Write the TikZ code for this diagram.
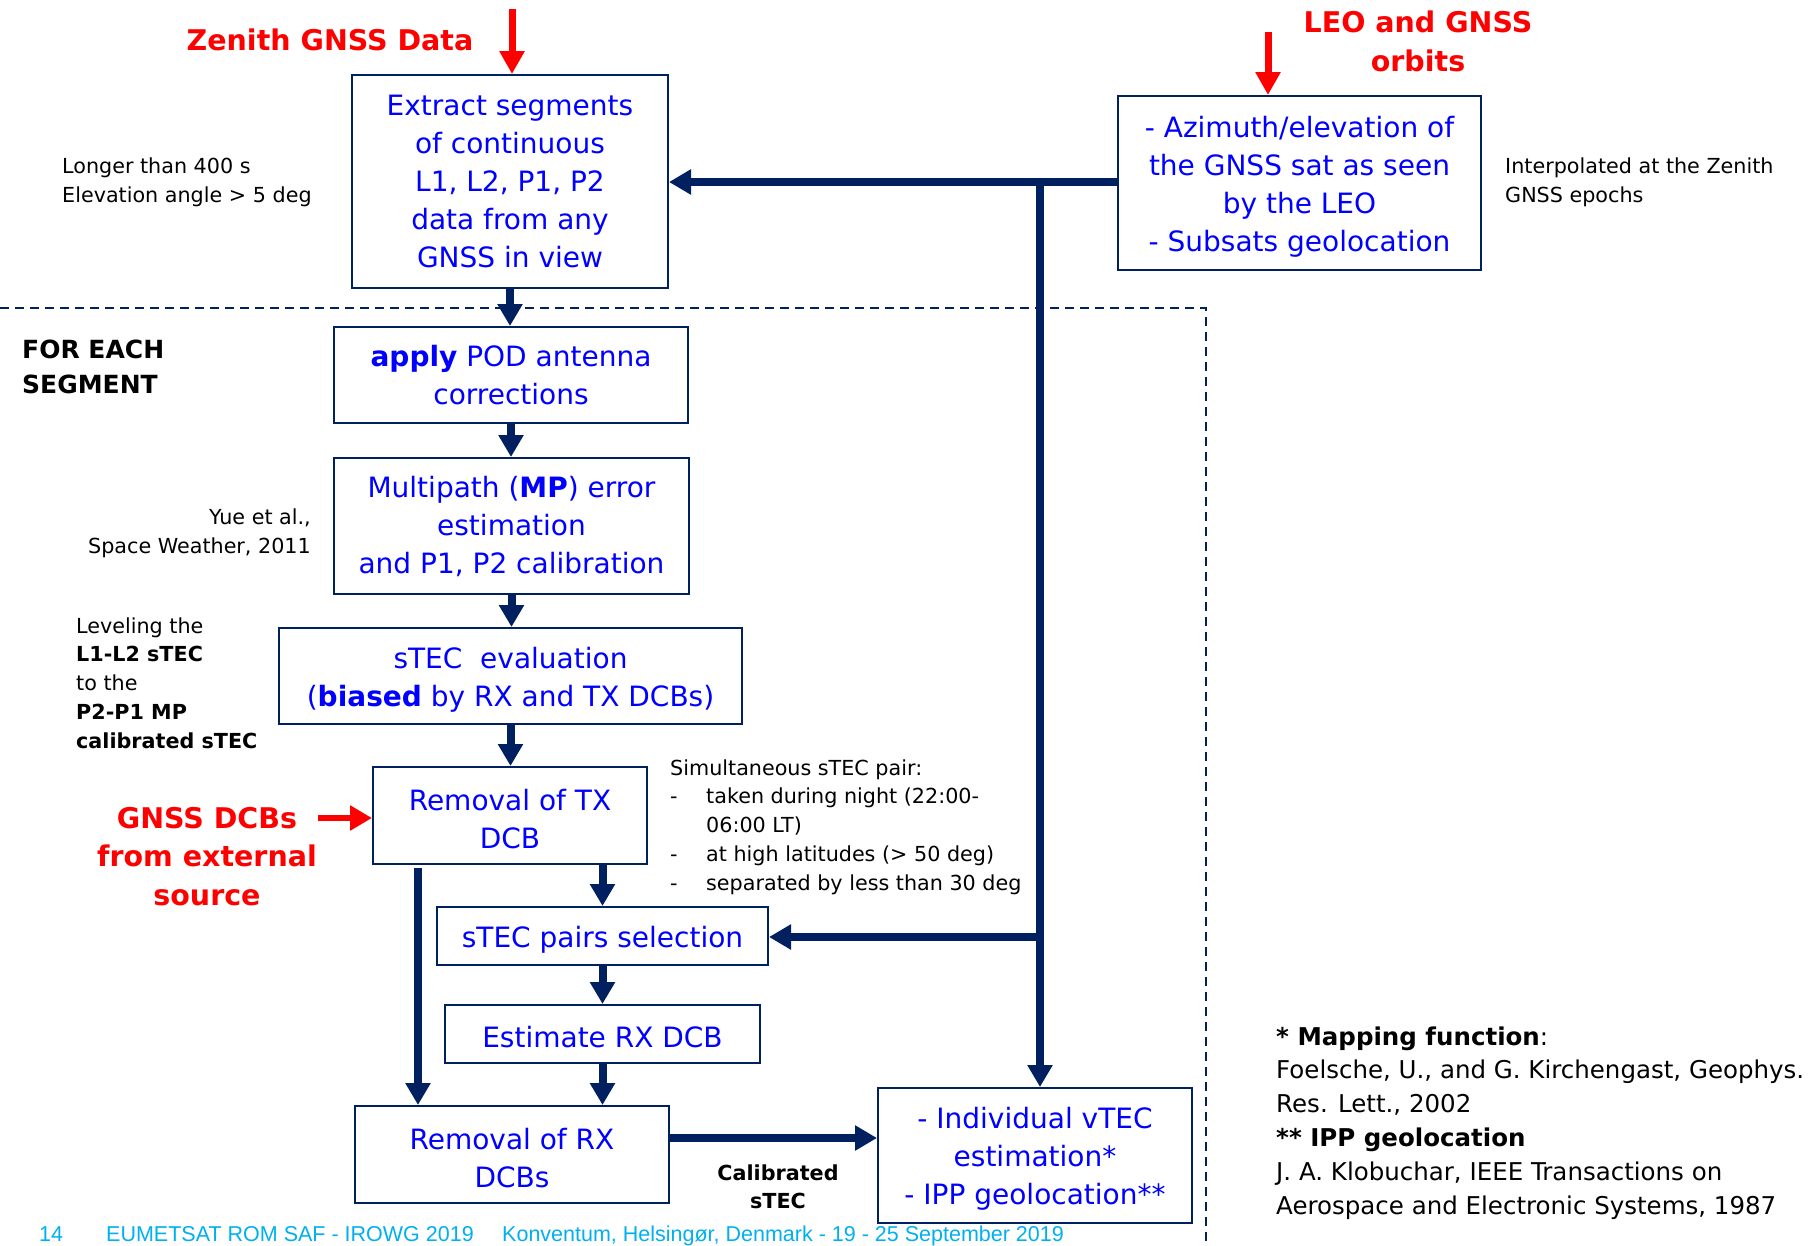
\documentclass[tikz,border=0pt]{standalone}
\usepackage{fontspec}
\setmainfont{DejaVu Sans}
\newfontfamily\arialf{Liberation Sans}
\usetikzlibrary{arrows.meta}
\definecolor{navy}{HTML}{002060}
\definecolor{footc}{HTML}{00B0F0}
\newcommand{\tp}{\rule{0pt}{28pt}}
\begin{document}
\begin{tikzpicture}[x=1pt,y=-1pt,
  box/.style={draw=navy, line width=2pt, text=blue, align=center, inner sep=0pt, font=\fontsize{28}{38}\selectfont},
  flow/.style={navy, line width=8pt, -{Triangle[length=22pt,width=24pt]}},
  redarr/.style={red, line width=7pt, -{Triangle[length=23pt,width=24pt]}},
  note/.style={inner sep=0pt, align=left, font=\fontsize{20.7}{28.7}\selectfont},
  refs/.style={inner sep=0pt, align=left, font=\fontsize{24.5}{33.8}\selectfont},
  redlbl/.style={inner sep=0pt, align=center, text=red, font=\bfseries\fontsize{28.5}{38.5}\selectfont},
  foot/.style={inner sep=0pt, text=footc, font=\arialf\fontsize{21.5}{25}\selectfont},
  dashline/.style={navy, line width=2pt, dash pattern=on 9pt off 6pt}]
\useasboundingbox (0,0) rectangle (1811,1245);
\fill[white] (0,0) rectangle (1811,1245);

% dashed frame
\coordinate (d0) at (0,308);
\coordinate (d1) at (1206,308);
\coordinate (d2) at (1206,1245);
\draw[dashline] (d0) -- (d1) -- (d2);

% boxes
\node[box, minimum width=316pt, minimum height=213pt] (extract) at (510,181.5)
  {Extract segments\\of continuous\\L1, L2, P1, P2\\data from any\\GNSS in view};
\node[box, minimum width=363pt, minimum height=174pt] (leo) at (1299.5,183)
  {\tp - Azimuth/elevation of\\the GNSS sat as seen\\by the LEO\\- Subsats geolocation};
\node[box, minimum width=354pt, minimum height=96pt] (apply) at (511,375)
  {\textbf{apply} POD antenna\\corrections};
\node[box, minimum width=355pt, minimum height=136pt] (mp) at (511.5,526)
  {Multipath (\textbf{MP}) error\\estimation\\and P1, P2 calibration};
\node[box, minimum width=463pt, minimum height=96pt] (stec) at (510.5,676)
  {\tp sTEC~~evaluation\\(\textbf{biased} by RX and TX DCBs)};
\node[box, minimum width=274pt, minimum height=97pt] (tx) at (510,815.5)
  {\tp Removal of TX\\DCB};
\node[box, minimum width=331pt, minimum height=58pt] (pairs) at (602.5,936)
  {\tp sTEC pairs selection};
\node[box, minimum width=315pt, minimum height=58pt] (est) at (602.5,1034)
  {\tp Estimate RX DCB};
\node[box, minimum width=314pt, minimum height=97pt] (rx) at (512,1154.5)
  {\tp Removal of RX\\DCBs};
\node[box, minimum width=314pt, minimum height=135pt] (vtec) at (1035,1155.5)
  {\tp - Individual vTEC\\estimation*\\- IPP geolocation**};

% red inputs
\node[redlbl, anchor=base] (zen) at (330,50) {Zenith GNSS Data};
\node[redlbl, anchor=base] (leolbl) at (1418,71) {LEO and GNSS\\orbits};
\node[redlbl, anchor=base] (dcbl) at (207,905) {GNSS DCBs\\from external\\source};
\coordinate (zin) at (512,9);
\coordinate (lin) at (1268,32);
\coordinate (din) at (318,818);
\draw[redarr] (zin) -- (zin |- extract.north);
\draw[redarr] (lin) -- (lin |- leo.north);
\draw[red, line width=6pt, -{Triangle[length=22pt,width=24pt]}] (din) -- (din -| tx.west);

% flow arrows
\coordinate (j1) at (1040,182);
\coordinate (j2) at (1040,937);
\coordinate (cl) at (418,868);
\coordinate (c3) at (669,1138);
\draw[flow] (leo.west |- j1) -- (j1 -| extract.east);
\draw[flow] (j1) -- (j1 |- vtec.north);
\draw[flow] (j2) -- (j2 -| pairs.east);
\draw[flow] (extract.south) -- (extract.south |- apply.north);
\draw[flow] (apply.south) -- (apply.south |- mp.north);
\draw[flow] (mp.south) -- (mp.south |- stec.north);
\draw[flow] (stec.south) -- (stec.south |- tx.north);
\draw[flow] (tx.south -| pairs.north) -- (pairs.north);
\draw[flow] (pairs.south) -- (pairs.south |- est.north);
\draw[flow] (est.south) -- (est.south |- rx.north);
\draw[flow] (cl) -- (cl |- rx.north);
\draw[flow] (c3) -- (c3 -| vtec.west);

% notes
\node[note, anchor=base west] (longer) at (62,202) {Longer than 400 s\\Elevation angle > 5 deg};
\node[note, anchor=base west] (interp) at (1505,202) {Interpolated at the Zenith\\GNSS epochs};
\node[inner sep=0pt, align=left, font=\bfseries\fontsize{25}{35}\selectfont, anchor=base west] (foreach) at (22,393) {FOR EACH\\SEGMENT};
\node[note, align=right, anchor=base east] (yue) at (311,553) {Yue et al.,\\Space Weather, 2011};
\node[note, anchor=base west] (lev) at (76,748) {Leveling the\\\textbf{L1-L2 sTEC}\\to the\\\textbf{P2-P1 MP}\\\textbf{calibrated sTEC}};
\node[note, anchor=base west] (sim) at (670,890) {Simultaneous sTEC pair:\\\makebox[36pt][l]{-}taken during night (22:00-\\\hspace*{36pt}06:00 LT)\\\makebox[36pt][l]{-}at high latitudes (> 50 deg)\\\makebox[36pt][l]{-}separated by less than 30 deg};
\node[note, align=center, font=\bfseries\fontsize{20.7}{28}\selectfont, anchor=base] (cal) at (778,1208) {Calibrated\\sTEC};
\node[refs, anchor=base west] (ref) at (1276,1214) {\textbf{* Mapping function}:\\Foelsche, U., and G. Kirchengast, Geophys.\\Res. Lett., 2002\\\textbf{** IPP geolocation}\\J. A. Klobuchar, IEEE Transactions on\\Aerospace and Electronic Systems, 1987};

% footer
\node[foot, anchor=base west] (pg) at (39,1241) {14};
\node[foot, anchor=base west] (ev) at (106,1241) {EUMETSAT ROM SAF - IROWG 2019};
\node[foot, anchor=base west] (loc) at (502,1241) {Konventum, Helsingør, Denmark - 19 - 25 September 2019};
\end{tikzpicture}
\end{document}
